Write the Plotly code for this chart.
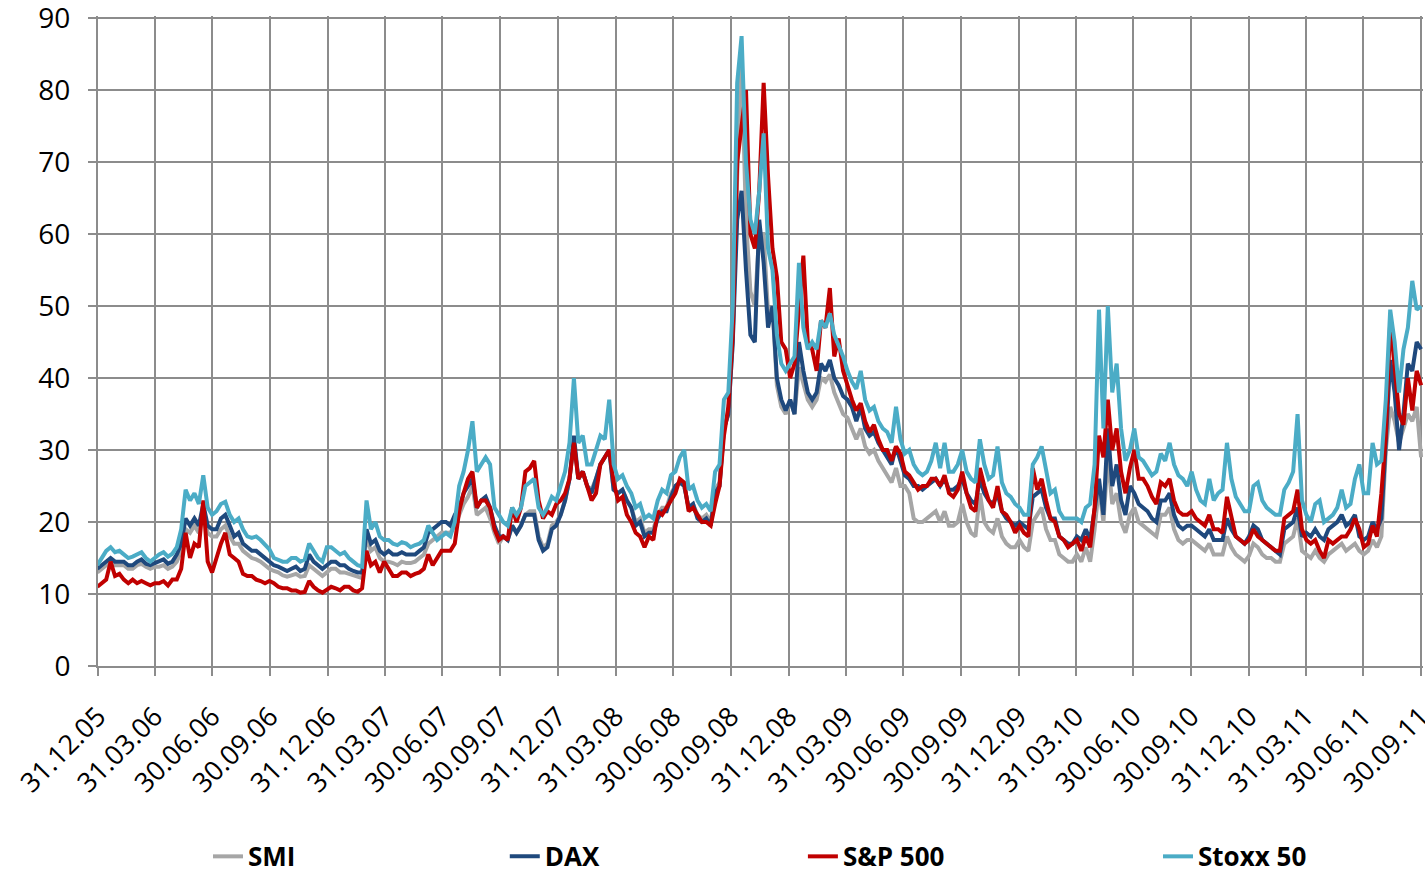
import pandas as pd
import plotly.graph_objects as go

# Weekly (Friday) observations, 30.12.2005 - 30.09.2011
dates = pd.date_range("2005-12-30", "2011-09-30", freq="W-FRI")

tick_labels = ["31.12.05", "31.03.06", "30.06.06", "30.09.06", "31.12.06", "31.03.07",
               "30.06.07", "30.09.07", "31.12.07", "31.03.08", "30.06.08", "30.09.08",
               "31.12.08", "31.03.09", "30.06.09", "30.09.09", "31.12.09", "31.03.10",
               "30.06.10", "30.09.10", "31.12.10", "31.03.11", "30.06.11", "30.09.11"]

smi = [
    13, 13.5, 14, 14.5, 14, 14, 14, 13.5, 13.5, 14, 14.2, 13.8, 13.5, 13.8,
    13.8, 14, 13.5, 13.8, 14.5, 16, 19, 18.5, 19.5, 18.5, 21.5, 18.5, 18,
    18, 19, 19.5, 18, 17, 17, 16, 15.5, 15, 14.8, 14.5, 14, 13.5,
    13.2, 13, 12.6, 12.4, 12.6, 12.8, 12.4, 12.5, 14, 13.5, 13, 12.5, 13,
    13.5, 13.5, 13, 13, 12.8, 12.5, 12.3, 12.2, 18, 16, 16.5, 15, 14.5,
    14.5, 14.3, 14, 14.5, 14.3, 14.3, 14.5, 15, 15.5, 17, 17.5, 18, 18.5,
    18.5, 18.5, 19.5, 21, 22.5, 23.5, 25, 21, 21.5, 22, 20.5, 18.5, 17,
    18, 17.5, 19.5, 18.5, 19.5, 21, 21.5, 21.5, 18, 16.5, 17, 19.5, 20,
    21, 23, 26, 31, 26, 27, 25, 24.5, 26, 28, 29, 30, 24.5,
    24, 24.5, 23, 22, 20, 20.5, 18.5, 19, 19, 21, 22, 22, 24,
    25, 25.5, 25, 22, 22.5, 21, 20.5, 21, 20, 24.5, 25.5, 33, 35,
    45, 68, 84, 62, 52, 50, 60, 60, 49, 50, 39, 36, 35,
    37, 35, 41.5, 39, 37, 36, 37, 40, 39.5, 40.5, 38, 36.5, 35,
    34.5, 33, 31.5, 33, 30.5, 29.5, 30, 28.5, 27.5, 26.5, 25.5, 27.5, 25,
    25, 24, 20.5, 20, 20, 20.5, 21, 21.5, 20, 21.5, 19.5, 19.5, 20,
    22.5, 20, 18.5, 18, 24, 20, 19, 18.5, 20.5, 18, 17, 16.5, 16.5,
    17.5, 16.5, 16, 20, 21, 22, 19, 17.5, 17.5, 15.5, 15, 14.5, 14.5,
    15.5, 14.5, 16.5, 14.5, 19, 25, 20, 29, 22.5, 24, 20, 18.5, 21,
    22, 20, 19.5, 19, 18.5, 18, 21, 21, 22, 19, 17.5, 17, 17.5,
    17.5, 17, 16.5, 16, 17, 15.5, 15.5, 15.5, 18, 16.5, 15.5, 15, 14.5, 15.3,
    17, 16.5, 15.5, 15, 15, 14.5, 14.5, 17, 17.5, 18, 20.5, 16,
    15.5, 15, 16, 15, 14.5, 15.5, 16, 16.5, 17, 16, 16.5, 17, 16,
    15.5, 16, 17.5, 16.5, 18, 30, 36, 34, 31, 33, 35, 34, 36, 29,
]

dax = [
    13.5, 14, 14.5, 15, 14.5, 14.5, 14.5, 14, 14, 14.5, 14.8, 14.2, 14, 14.3,
    14.5, 14.8, 14.2, 14.5, 15.5, 17, 20.5, 19.5, 20.5, 19.5, 22.5, 19.5, 19,
    19, 20.5, 21, 19.5, 18, 18.5, 17, 16.5, 16, 16, 15.5, 15, 14.5,
    14, 13.8, 13.5, 13.2, 13.5, 13.8, 13.2, 13.5, 15.5, 14.5, 14, 13.5, 14,
    14.5, 14.5, 14, 14, 13.5, 13.2, 13, 13, 19, 17, 17.5, 16, 15.5,
    16, 15.5, 15.5, 15.8, 15.5, 15.5, 15.5, 16, 16.5, 18.5, 19, 19.5, 20,
    20, 19.5, 21, 22, 24, 25, 26, 22, 23, 23.5, 22, 19.5, 18,
    18, 17.5, 19.5, 18.5, 19.5, 21, 21, 21, 17.5, 16, 16.5, 19, 19.5,
    21, 23, 26, 32, 26, 27, 25, 24, 26, 28, 29, 30, 24.5,
    24, 24.5, 23, 22, 19.5, 20, 18, 18.5, 18.5, 20.5, 21.5, 21.5, 23.5,
    25, 25.5, 25, 22, 22.5, 20.5, 20, 20.5, 19.5, 24, 25, 33, 35,
    45, 62, 66, 55, 46, 45, 62, 56, 47, 50, 40, 37, 35.5,
    37, 35, 45, 41, 38, 37, 38, 42, 41, 42.5, 40, 39, 37.5,
    37, 36, 34, 36, 33, 32, 32.5, 31, 30, 29, 28, 30.5, 28.5,
    26.5, 26, 25, 25, 24.5, 25, 25.5, 26, 25, 26, 24.5, 24.5, 25,
    26, 24, 23, 22.5, 26, 24, 23, 22.5, 24, 21.5, 20.5, 20, 19.5,
    20, 19.5, 19, 23.5, 24, 24.5, 22, 20.5, 20.5, 18, 17.5, 17, 17,
    18, 17.5, 19, 17.5, 22, 26, 21, 33, 25, 28, 23, 21, 25,
    24, 22.5, 22, 21.5, 20.5, 20, 23, 23, 24, 21, 19.5, 19, 19.5,
    19.5, 19, 18.5, 18, 19, 17.5, 17.5, 17.5, 20.5, 19, 18, 17.5, 17, 18,
    19.5, 19, 17.5, 17, 16.5, 16, 15.5, 19, 19.5, 20, 22, 18,
    18.5, 18, 19, 18, 17.5, 19, 19.5, 20, 21, 19.5, 20, 21, 18,
    17.5, 18, 20, 19, 20.5, 31, 42.5, 38, 30, 35, 42, 41, 45, 44,
]

sp500 = [
    11, 11.5, 12, 14.5, 12.5, 12.8, 12, 11.5, 12, 11.5, 11.8, 11.5, 11.2, 11.5,
    11.5, 11.8, 11.2, 12, 12, 13.5, 18.5, 15, 17, 16.5, 23, 14.5, 13,
    15, 17, 18.5, 15.5, 15, 14.5, 12.8, 12.5, 12.5, 12, 11.8, 11.5, 11.8,
    11.5, 11, 10.8, 10.8, 10.5, 10.5, 10.2, 10.3, 11.8, 11, 10.5, 10.2, 10.6,
    11, 10.8, 10.5, 11, 11, 10.5, 10.3, 10.8, 16, 14, 14.5, 13, 14.5,
    13.5, 12.5, 12.5, 13, 13, 12.5, 12.8, 13, 13.5, 15.5, 14, 15, 16,
    16, 16, 17, 21.5, 24, 26, 27, 22, 23, 23, 22, 19, 17.5,
    18, 17.5, 22, 20, 22, 27, 27.5, 28.5, 23, 20.5, 21.5, 21, 22.5,
    23, 24, 26, 31, 26, 27, 25, 23, 24, 28, 29, 30, 25.5,
    23, 23.5, 21, 20, 18.5, 18, 16.5, 18, 17.5, 21.5, 21, 22, 23,
    24, 26, 25.5, 21.5, 22, 21, 20, 20, 19.5, 22.5, 25, 32, 36,
    46, 70, 75, 80, 60, 58, 66, 81, 68, 58, 54, 45, 44,
    40, 42, 50, 57, 45, 44, 41, 48, 47, 52.5, 43, 45.5, 41,
    39, 37, 35.5, 36.5, 34, 32.5, 33.5, 31.5, 30, 30, 28.5, 30.5, 29.5,
    27, 26.5, 25.5, 24.5, 25, 25, 26, 26, 25, 26.5, 24, 23.5, 24.5,
    27, 24, 22, 21.5, 27.5, 25, 23, 22, 25, 21.5, 21, 20, 18.5,
    19.5, 18.5, 18, 27.5, 24.5, 26, 23, 20.5, 20, 18, 17.5, 16.5, 17,
    17.5, 16, 18, 16.5, 22, 32, 29, 37, 30, 33, 27, 24, 27.5,
    30, 26, 26, 25, 23.5, 22.5, 25.5, 25, 26, 23, 21.5, 21, 21,
    21.5, 20.5, 20, 19.5, 21, 19, 19, 18.5, 23.5, 21, 18, 17.5, 17, 17.5,
    19, 18, 17.5, 17, 16.5, 16, 16, 20.5, 21, 21.5, 24.5, 19,
    17.5, 17, 17.5, 16, 15, 17.5, 17, 17.5, 18, 18, 19, 20.5, 19,
    16.5, 17, 19.5, 18, 24, 32, 48, 42, 35, 33.5, 40, 35.5, 41, 39,
]

stoxx50 = [
    14, 15, 16, 16.5, 15.8, 16, 15.5, 15, 15.2, 15.5, 15.8, 15, 14.5, 15,
    15.5, 15.8, 15.2, 15.6, 16.5, 19, 24.5, 23, 24, 22.5, 26.5, 22, 21,
    21.5, 22.5, 22.8, 21, 20, 20.5, 19, 18, 17.8, 18, 17.5, 16.8, 16.2,
    15, 14.8, 14.5, 14.5, 15, 15, 14.5, 14.8, 17, 16, 15, 14.5, 16.5,
    16.5, 16, 15.5, 15.8, 15, 14.5, 14, 13.8, 23, 19, 20, 18, 17.5,
    17.5, 17, 16.8, 17.2, 17, 16.5, 16.8, 17, 17.5, 19.5, 18.5, 17.5, 18,
    18.5, 18, 20, 25, 27, 30, 34, 27, 28, 29, 28, 22, 21,
    20, 19.5, 22, 21, 22, 25, 25.5, 26, 22, 21, 22, 23.5, 23,
    25, 27, 31, 40, 31, 32, 28, 28, 30, 32, 31.5, 37, 28,
    26, 26.5, 25, 24, 22, 22.5, 20.5, 21, 20.5, 23, 24.5, 24, 26.5,
    27, 29, 30, 24.5, 25, 23, 22, 22.5, 21.5, 27, 28, 37, 38,
    50, 81, 87.5, 70, 62, 60, 66, 74, 58, 55, 46, 42, 41,
    42, 43, 56, 47, 44, 45, 44, 48, 47, 49, 46, 44.5, 43,
    41, 39.5, 38.5, 41, 37, 35.5, 36, 34, 33, 32.5, 31, 36, 31.5,
    29.5, 30, 28, 27, 26.5, 27, 28.5, 31, 27.5, 31, 27, 27, 28,
    30, 27, 26, 25.5, 31.5, 28, 26, 26.5, 30.5, 25.5, 24, 23.5, 22.5,
    22, 21, 21, 28, 29, 30.5, 27.5, 24, 24.5, 21.5, 20.5, 20.5, 20.5,
    20.5, 20, 22, 22.5, 28, 49.5, 33, 50, 38, 42, 33, 28.5, 30,
    33, 29, 28.5, 27.5, 26.5, 27, 29.5, 28.5, 31, 28, 26.5, 26, 25,
    27, 24.5, 23, 22.5, 26, 23, 24, 24.5, 31, 26, 23.5, 22.5, 21.5, 21.5,
    25, 25.5, 23, 22, 21.5, 21, 21, 24.5, 25.5, 27, 35, 23,
    21, 20, 22.5, 23, 20, 20.5, 21, 22, 24.5, 22, 22.5, 26, 28,
    24, 24, 31, 28, 28.5, 37, 49.5, 45, 38, 44, 47, 53.5, 49.5, 50,
]

series_names = ["SMI", "DAX", "S&P 500", "Stoxx 50"]
series_values = [smi, dax, sp500, stoxx50]
series_colors = ["#A6A6A6", "#1F497D", "#C00000", "#4BACC6"]
legend_ids = ["legend", "legend2", "legend3", "legend4"]
legend_x = [0.083, 0.307, 0.532, 0.800]

n = min(len(dates), *[len(v) for v in series_values])

fig = go.Figure()
for name, vals, col, lid in zip(series_names, series_values, series_colors, legend_ids):
    fig.add_trace(go.Scatter(
        x=dates[:n], y=vals[:n], mode="lines", name=name,
        line=dict(color=col, width=4), legend=lid,
    ))

tick_dates = pd.to_datetime(tick_labels, format="%d.%m.%y")
grid_col = "#8C8C8C"
font_family = "Open Sans, Liberation Sans, sans-serif"

legend_common = dict(orientation="h", yanchor="middle", y=-0.293, xanchor="left",
                     font=dict(family=font_family, size=26, color="#000000", weight="bold"),
                     bgcolor="rgba(0,0,0,0)", borderwidth=0)
layout_legends = {}
for lid, lx in zip(legend_ids, legend_x):
    d = dict(legend_common)
    d["x"] = lx
    layout_legends[lid] = d

fig.update_layout(
    width=1425, height=874,
    margin=dict(l=98, r=2, t=16, b=208, autoexpand=False),
    paper_bgcolor="white", plot_bgcolor="white",
    font=dict(family=font_family, size=27, color="#000000"),
    showlegend=True,
    **layout_legends,
)

fig.update_xaxes(
    range=["2005-12-31", "2011-10-03"],
    tickvals=tick_dates, ticktext=tick_labels, tickangle=-45,
    showgrid=True, gridcolor=grid_col, gridwidth=2,
    showline=True, linecolor=grid_col, linewidth=2,
    ticks="outside", ticklen=8, tickwidth=2, tickcolor=grid_col,
    ticklabelstandoff=14, ticklabeloverflow="allow",
    tickfont=dict(family=font_family, size=27, color="#000000"),
    automargin=False, zeroline=False,
)
fig.update_yaxes(
    range=[0, 90.3], tickvals=list(range(0, 91, 10)),
    showgrid=True, gridcolor=grid_col, gridwidth=2,
    showline=True, linecolor=grid_col, linewidth=2,
    ticks="outside", ticklen=8, tickwidth=2, tickcolor=grid_col,
    ticklabelstandoff=12, ticklabeloverflow="allow",
    tickfont=dict(family=font_family, size=28, color="#000000"),
    automargin=False, zeroline=False,
)

fig.write_html("out.html", config={"displayModeBar": False},
               post_script="document.body.style.margin='0px';document.body.style.overflow='hidden';")
